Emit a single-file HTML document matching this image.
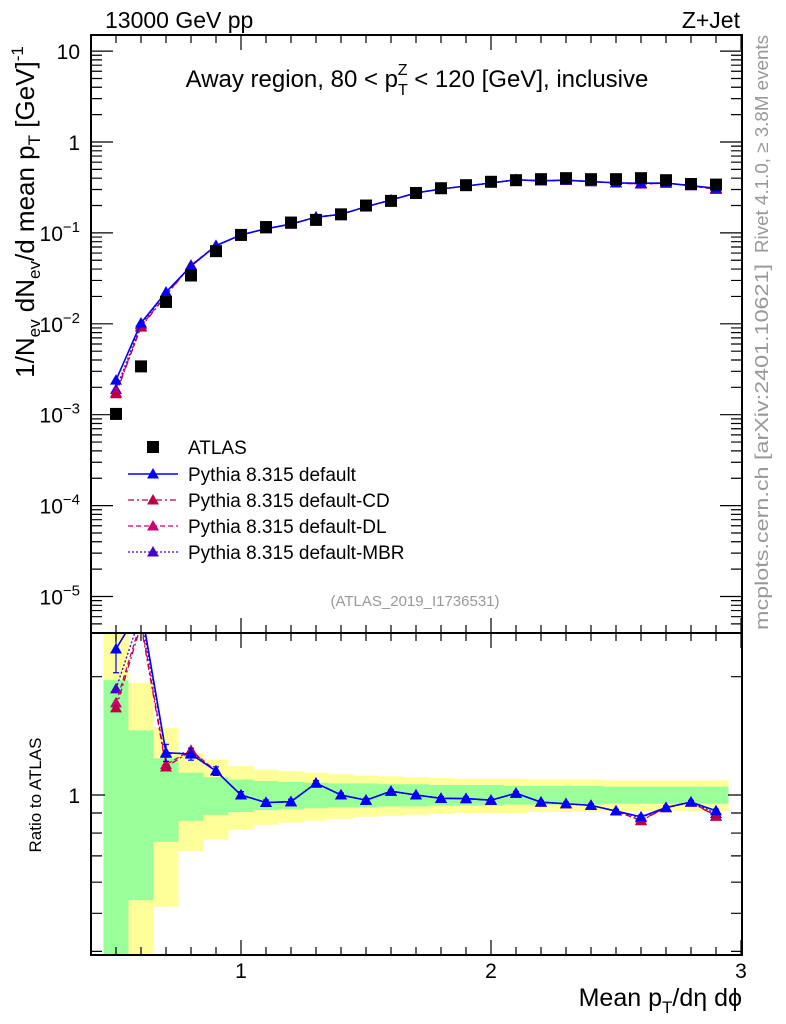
<!DOCTYPE html>
<html><head><meta charset="utf-8">
<style>
html,body{margin:0;padding:0;background:#fff;overflow:hidden;width:786px;height:1024px;}
svg{display:block;font-family:"Liberation Sans",sans-serif;}
</style></head>
<body>
<svg id="chart" width="786" height="1024" viewBox="0 0 786 1024" xmlns="http://www.w3.org/2000/svg">
<defs>
<clipPath id="clipMain"><rect x="91" y="35" width="651" height="598"/></clipPath>
<clipPath id="clipRatio"><rect x="91" y="633" width="651" height="322"/></clipPath>
</defs>
<g id="bands" clip-path="url(#clipRatio)"></g>
<g id="ratioLines" clip-path="url(#clipRatio)"></g>
<g id="mainLines" clip-path="url(#clipMain)"></g>
<g id="axes"></g>
<text x="105" y="28" font-size="23">13000 GeV pp</text>
<text x="740" y="28" font-size="23" text-anchor="end">Z+Jet</text>
<text x="417" y="87" font-size="24" text-anchor="middle">Away region, 80 &lt; p<tspan font-size="16" dy="8">T</tspan><tspan font-size="16" dx="-10" dy="-20">Z</tspan><tspan dy="12"> &lt; 120 [GeV], inclusive</tspan></text>
<text x="415" y="606" font-size="15" fill="#999" text-anchor="middle">(ATLAS_2019_I1736531)</text>
<text transform="translate(34,212) rotate(-90)" font-size="26" text-anchor="middle">1/N<tspan font-size="17" dy="6">ev</tspan><tspan dy="-6"> dN</tspan><tspan font-size="17" dy="6">ev</tspan><tspan dy="-6">/d mean p</tspan><tspan font-size="17" dy="6">T</tspan><tspan dy="-6"> [GeV]</tspan><tspan font-size="17" dy="-11">-1</tspan></text>
<text transform="translate(41,795) rotate(-90)" font-size="17" text-anchor="middle">Ratio to ATLAS</text>
<text x="742" y="1006" font-size="25" text-anchor="end">Mean p<tspan font-size="17" dy="7">T</tspan><tspan dy="-7">/dη dϕ</tspan></text>
<text transform="translate(768,144) rotate(-90)" font-size="18" fill="#999" text-anchor="middle" textLength="218" lengthAdjust="spacingAndGlyphs">Rivet 4.1.0, ≥ 3.8M events</text>
<text transform="translate(768,447) rotate(-90)" font-size="18" fill="#999" text-anchor="middle" textLength="366" lengthAdjust="spacingAndGlyphs">mcplots.cern.ch [arXiv:2401.10621]</text>
<g id="legend"></g>
</svg>
<script>
const xCenters=[0.5,0.6,0.7,0.8,0.9,1.0,1.1,1.2,1.3,1.4,1.5,1.6,1.7,1.8,1.9,2.0,2.1,2.2,2.3,2.4,2.5,2.6,2.7,2.8,2.9];
const binHalfWidth=0.05;
const atlasValues=[1.02e-3,3.4e-3,0.0174,0.034,0.063,0.095,0.116,0.13,0.139,0.16,0.2,0.225,0.275,0.31,0.335,0.365,0.38,0.39,0.4,0.39,0.39,0.4,0.38,0.345,0.34];
const statErr=[0.96,0.46,0.24,0.14,0.11,0.095,0.085,0.08,0.075,0.07,0.07,0.065,0.065,0.06,0.06,0.06,0.055,0.055,0.055,0.055,0.05,0.05,0.05,0.05,0.05];
const totalErr=[3.0,0.93,0.48,0.28,0.23,0.185,0.16,0.15,0.14,0.13,0.12,0.115,0.11,0.105,0.1,0.1,0.1,0.095,0.095,0.095,0.09,0.09,0.09,0.09,0.09];
const mcDefault=[2.4e-3,0.0102,0.0223,0.0432,0.0725,0.095,0.111,0.125,0.149,0.16,0.194,0.23,0.275,0.304,0.328,0.354,0.384,0.374,0.38,0.367,0.355,0.352,0.353,0.331,0.31];
const mcCD=[1.7e-3,0.0092,0.0205,0.044,0.0725,0.095,0.111,0.125,0.149,0.16,0.194,0.23,0.275,0.304,0.328,0.354,0.384,0.374,0.38,0.367,0.355,0.344,0.353,0.331,0.300];
const mcDL=[1.75e-3,0.0094,0.0208,0.0442,0.0725,0.095,0.111,0.125,0.149,0.16,0.194,0.23,0.275,0.304,0.328,0.354,0.384,0.374,0.38,0.367,0.355,0.345,0.353,0.331,0.301];
const mcMBR=[1.9e-3,0.0098,0.0222,0.0435,0.0725,0.095,0.111,0.125,0.149,0.16,0.194,0.23,0.275,0.304,0.328,0.354,0.384,0.374,0.38,0.367,0.355,0.350,0.353,0.331,0.305];
const mcDefaultErr=[0.13,0.05,0.05,0.035,0.025,0.02,0.015,0.015,0.015,0.012,0.012,0.01,0.01,0.01,0.01,0.01,0.01,0.01,0.01,0.01,0.01,0.01,0.01,0.01,0.01];
const yTickExps=[1,0,-1,-2,-3,-4,-5];
const xTickLabels=[1,2,3];

const NS='http://www.w3.org/2000/svg';
const X0=91,X1=742,XMIN=0.4;
function xs(v){return X0+(v-XMIN)*250;}
const YM0=35,YM1=633;
function ys(v){return 142-Math.log10(v)*90.9;}
const YR0=633,YR1=955;
function yr(v){return 795-Math.log10(v)*393;}
function el(tag,attrs,parent){const e=document.createElementNS(NS,tag);for(const k in attrs)e.setAttribute(k,attrs[k]);parent.appendChild(e);return e;}
const bands=document.getElementById('bands'),rl=document.getElementById('ratioLines'),ml=document.getElementById('mainLines'),ax=document.getElementById('axes'),lg=document.getElementById('legend');

xCenters.forEach((c,i)=>{
  const xa=xs(c-binHalfWidth),xb=xs(c+binHalfWidth);
  const tl=Math.max(1-totalErr[i],0.01),th=1+totalErr[i];
  const y1=el('rect',{x:xa,y:yr(th),width:xb-xa,height:yr(tl)-yr(th),fill:'#ffff99'},bands);
  
  
  const gl=Math.max(1-statErr[i],0.01),gh=1+statErr[i];
  const g1=el('rect',{x:xa,y:yr(gh),width:xb-xa,height:yr(gl)-yr(gh),fill:'#99ff99'},bands);
  
  
});

const series=[
 {name:'default',vals:mcDefault,color:'#0000ff',dash:'',w:1.6},
 {name:'default-CD',vals:mcCD,color:'#bb0044',dash:'6,3,2,3',w:1.3},
 {name:'default-DL',vals:mcDL,color:'#cc0077',dash:'5,3',w:1.3},
 {name:'default-MBR',vals:mcMBR,color:'#4400cc',dash:'2,2',w:1.3}
];
function tri(x,y,s,color,parent,name){
  const p=el('polygon',{points:`${x},${y-s} ${x-s},${y+s*0.75} ${x+s},${y+s*0.75}`,fill:color},parent);
  
  
}
series.slice().reverse().forEach(s=>{
  const pm=xCenters.map((c,i)=>`${xs(c)},${ys(s.vals[i])}`).join(' ');
  const l=el('polyline',{points:pm,fill:'none',stroke:s.color,'stroke-width':s.w,'stroke-dasharray':s.dash},ml);
  
  
  const pr=xCenters.map((c,i)=>`${xs(c)},${yr(s.vals[i]/atlasValues[i])}`).join(' ');
  const l2=el('polyline',{points:pr,fill:'none',stroke:s.color,'stroke-width':s.w,'stroke-dasharray':s.dash},rl);
  
  
  xCenters.forEach((c,i)=>{
    tri(xs(c),ys(s.vals[i]),6,s.color,ml,'marker-'+s.name);
    tri(xs(c),yr(s.vals[i]/atlasValues[i]),6,s.color,rl,'ratio-marker-'+s.name);
  });
});
xCenters.forEach((c,i)=>{
  const r=mcDefault[i]/atlasValues[i],e=mcDefaultErr[i]*r;
  const x=xs(c);
  const b=el('path',{d:`M${x},${yr(r+e)}V${yr(r-e)}M${x-3},${yr(r+e)}h6M${x-3},${yr(r-e)}h6`,stroke:'#0000ff','stroke-width':1.2,fill:'none'},rl);
  
  
});
xCenters.forEach((c,i)=>{
  const r=el('rect',{x:xs(c)-6,y:ys(atlasValues[i])-6,width:12,height:12,fill:'#000'},ml);
  
  
});

[[YM0,YM1],[YR0,YR1]].forEach(([a,b])=>{
  const f=el('rect',{x:X0,y:a,width:X1-X0,height:b-a,fill:'none',stroke:'#000','stroke-width':2},ax);
  
  
});
let d='';
for(let k=5;k<=30;k++){
  const v=k/10,x=xs(v),major=(k%10===0),L=major?15:8;
  [[YM0,1],[YM1,-1],[YR0,1],[YR1,-1]].forEach(([y,s])=>{d+=`M${x},${y}v${s*L}`;});
}
for(let e=-6;e<=1;e++){
  for(let m=1;m<=9;m++){
    const v=m*Math.pow(10,e),y=ys(v);
    if(y<YM0||y>YM1)continue;
    const L=m===1?22:11;
    d+=`M${X0},${y}h${L}M${X1},${y}h${-L}`;
  }
}
[0.4,0.5,0.6,0.7,0.8,0.9,1,2].forEach(v=>{
  const y=yr(v);if(y<YR0||y>YR1)return;
  const L=(v===1)?14:11;
  d+=`M${X0},${y}h${L}M${X1},${y}h${-L}`;
});
const tp=el('path',{d:d,stroke:'#000','stroke-width':1.2,fill:'none'},ax);



yTickExps.forEach(e=>{
  const y=ys(Math.pow(10,e));
  const t=el('text',{x:80,y:y+8,'font-size':21,'text-anchor':'end'},ax);
  
  
  if(e===1)t.textContent='10';
  else if(e===0)t.textContent='1';
  else{
    const a=el('tspan',{},t);a.textContent='10';
    const b=el('tspan',{'font-size':15,dy:-9},t);b.textContent='−'+(-e);
  }
});
const r1=el('text',{x:80,y:yr(1)+8,'font-size':21,'text-anchor':'end'},ax);


r1.textContent='1';
xTickLabels.forEach(v=>{
  const t=el('text',{x:xs(v),y:978,'font-size':21,'text-anchor':'middle'},ax);
  
  
  t.textContent=String(v);
});

const rows=[{label:'ATLAS',type:'sq'}].concat(series.map(s=>({label:'Pythia 8.315 '+s.name,type:'s',s:s})));
const rowY=[447,474,500,526,552];
rows.forEach((r,i)=>{
  const y=rowY[i];
  const g=el('g',{},lg);
  
  
  if(r.type==='sq'){el('rect',{x:147,y:y-6,width:12,height:12,fill:'#000'},g);}
  else{
    el('line',{x1:128,y1:y,x2:178,y2:y,stroke:r.s.color,'stroke-width':r.s.w,'stroke-dasharray':r.s.dash},g);
    tri(153,y,6,r.s.color,g,'legend-marker');
  }
  const t=el('text',{x:188,y:y+7,'font-size':19},g);
  t.textContent=r.label;
});
</script>
</body></html>
